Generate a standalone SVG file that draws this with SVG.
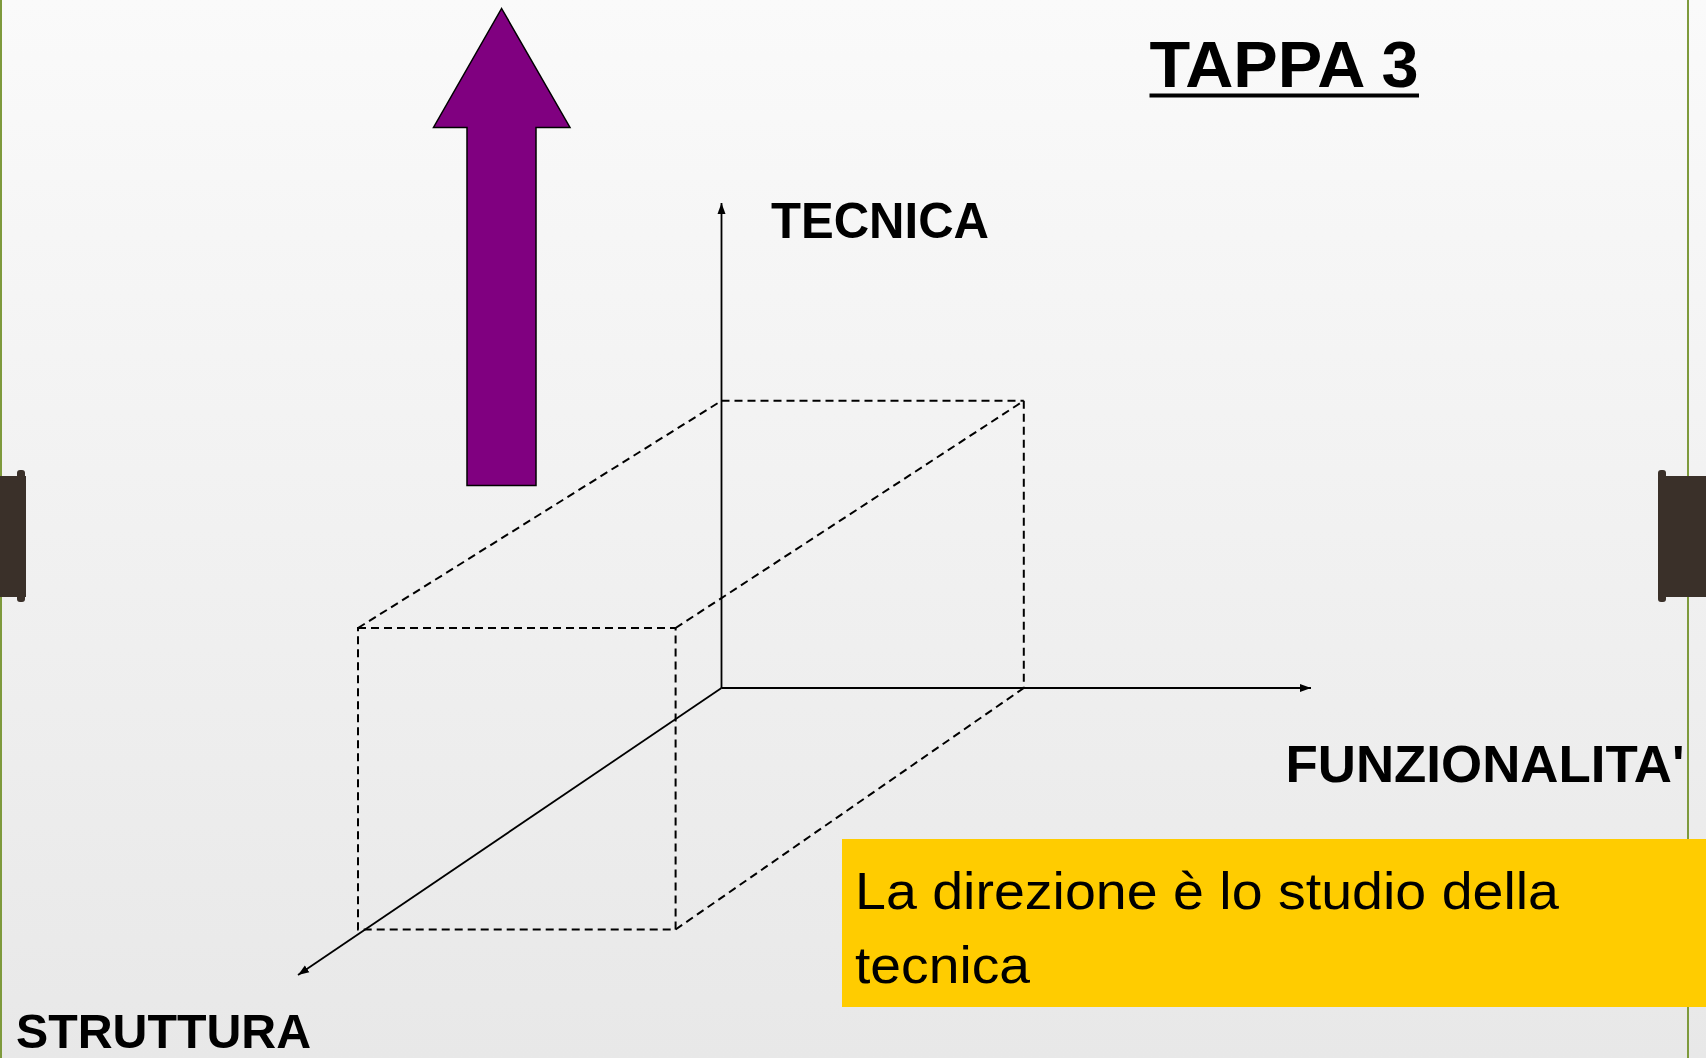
<svg xmlns="http://www.w3.org/2000/svg" width="1706" height="1058" viewBox="0 0 1706 1058">
  <defs>
    <linearGradient id="bg" x1="0" y1="0" x2="0" y2="1">
      <stop offset="0" stop-color="#FAFAFA"/>
      <stop offset="1" stop-color="#E8E8E8"/>
    </linearGradient>
    <marker id="ah" markerUnits="userSpaceOnUse" markerWidth="12" markerHeight="10" refX="11" refY="5" orient="auto">
      <path d="M0,1 L11,5 L0,9 Z" fill="#000"/>
    </marker>
    <style>
      .lbl { font-family: "Liberation Sans", "DejaVu Sans", sans-serif; font-weight: bold; fill: #000; }
      .body { font-family: "Liberation Sans", "DejaVu Sans", sans-serif; font-weight: normal; fill: #000; }
      .dash { stroke: #000; stroke-width: 2; stroke-dasharray: 8 5; fill: none; }
      .axis { stroke: #000; stroke-width: 1.8; fill: none; marker-end: url(#ah); }
      .tab { fill: #3A3029; }
      .rail { stroke: #7E9A3C; stroke-width: 2; }
    </style>
  </defs>

  <!-- background -->
  <rect x="0" y="0" width="1706" height="1058" fill="url(#bg)"/>
  <line class="rail" x1="1" y1="0" x2="1" y2="1058"/>
  <line class="rail" x1="1688" y1="0" x2="1688" y2="1058"/>
  <g id="tab-left">
    <rect class="tab" x="0" y="476" width="26" height="121"/>
    <rect class="tab" x="17" y="470" width="8" height="10" rx="3"/>
    <rect class="tab" x="17" y="592" width="8" height="10" rx="3"/>
  </g>
  <g id="tab-right">
    <rect class="tab" x="1658" y="476" width="48" height="121"/>
    <rect class="tab" x="1658" y="470" width="8" height="10" rx="3"/>
    <rect class="tab" x="1658" y="592" width="8" height="10" rx="3"/>
  </g>

  <!-- purple arrow -->
  <g id="purple-arrow">
    <polygon points="501.6,8.5 570,127.5 536,127.5 536,485.5 467,485.5 467,127.5 433.5,127.5" fill="#800080" stroke="#000" stroke-width="1.5"/>
  </g>

  <!-- dashed box -->
  <g id="dashed-box">
    <rect class="dash" x="358" y="628" width="317.6" height="301.5"/>
    <line class="dash" x1="358" y1="628" x2="721.5" y2="400.8"/>
    <line class="dash" x1="721.5" y1="400.8" x2="1023.8" y2="400.8"/>
    <line class="dash" x1="675.6" y1="628" x2="1023.8" y2="400.8"/>
    <line class="dash" x1="1023.8" y1="400.8" x2="1023.8" y2="688"/>
    <line class="dash" x1="675.6" y1="929.5" x2="1023.8" y2="688"/>
  </g>

  <!-- axes -->
  <g id="connectors">
    <line class="axis" x1="721.5" y1="688" x2="721.5" y2="203"/>
    <line class="axis" x1="721.5" y1="688" x2="1311" y2="688"/>
    <line class="axis" x1="721.5" y1="688" x2="298" y2="975"/>
  </g>

  <!-- title -->
  <g id="title">
    <text class="lbl" x="1149.5" y="87" font-size="65" textLength="269" lengthAdjust="spacingAndGlyphs">TAPPA 3</text>
    <rect x="1149.5" y="93.5" width="269.5" height="4" fill="#000"/>
  </g>

  <g id="label-tecnica">
    <text class="lbl" x="771" y="238" font-size="50" textLength="218" lengthAdjust="spacingAndGlyphs">TECNICA</text>
  </g>

  <g id="label-funzionalita">
    <text class="lbl" x="1285.5" y="782" font-size="51" textLength="399" lengthAdjust="spacingAndGlyphs">FUNZIONALITA'</text>
  </g>

  <g id="label-struttura">
    <text class="lbl" x="16" y="1048" font-size="48" textLength="295" lengthAdjust="spacingAndGlyphs">STRUTTURA</text>
  </g>

  <g id="note">
    <rect x="842" y="839" width="864" height="168" fill="#FFCC00"/>
    <text class="body" x="855" y="908.5" font-size="52" textLength="704" lengthAdjust="spacingAndGlyphs">La direzione è lo studio della</text>
    <text class="body" x="855" y="983" font-size="52" textLength="175" lengthAdjust="spacingAndGlyphs">tecnica</text>
  </g>
</svg>
